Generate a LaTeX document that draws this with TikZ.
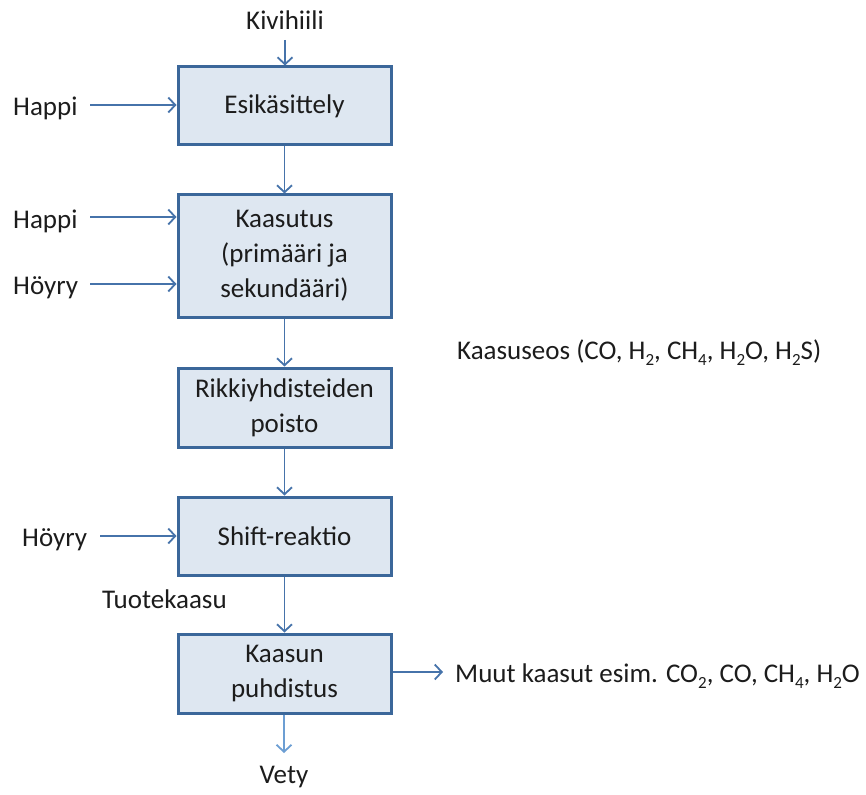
\documentclass[tikz,border=0pt]{standalone}
\usepackage{fontspec}
\setmainfont{Carlito}
\usetikzlibrary{arrows.meta}
\definecolor{boxline}{HTML}{3B679A}
\definecolor{boxfill}{HTML}{DEE7F1}
\definecolor{flowline}{HTML}{4673AA}
\definecolor{outline}{HTML}{6C9ED3}
\definecolor{ink}{HTML}{1C1C1C}
% lowered chemical subscript
\newcommand\chsub[1]{\raisebox{-0.5ex}{\fontsize{17}{17}\selectfont #1}}
\begin{document}
\begin{tikzpicture}[x=1pt,y=-1pt,
  font=\fontsize{27}{35}\selectfont, text=ink,
  stage/.style={draw=boxline, line width=3pt, fill=boxfill,
    minimum width=213pt, align=center, inner sep=0pt},
  label/.style={inner sep=0pt},
  flow/.style={draw=flowline, line width=1.7pt,
    -{Straight Barb[length=7pt,width=15pt,line width=1.8pt]}},
  lightflow/.style={flow, draw=outline}]
\useasboundingbox (0,0) rectangle (866,794);

% process stages
\node[stage, minimum height=78pt]  (b1) at (284.5,106)   {Esikäsittely};
\node[stage, minimum height=122pt] (b2) at (284.5,256)   {Kaasutus\\(primääri ja\\sekundääri)};
\node[stage, minimum height=79pt]  (b3) at (284.5,407.5) {Rikkiyhdisteiden\\poisto};
\node[stage, minimum height=78pt]  (b4) at (284.5,536)   {Shift-reaktio};
\node[stage, minimum height=79pt]  (b5) at (284.5,673.5) {Kaasun\\puhdistus};

% inputs and outputs
\node[label, anchor=base] (kivi) at (285,30) {Kivihiili};
\node[label, anchor=base west] (happi1) at (13,116) {Happi};
\node[label, anchor=base west] (happi2) at (13,228) {Happi};
\node[label, anchor=base west] (hoyry1) at (13,294) {Höyry};
\node[label, anchor=base west] (hoyry2) at (22,546) {Höyry};
\node[label, anchor=base west] (seos) at (457,359)
  {Kaasuseos (CO, H\chsub{2}, CH\chsub{4}, H\chsub{2}O, H\chsub{2}S)};
\node[label, anchor=base west] (tuote) at (102,608) {Tuotekaasu};
\node[label, anchor=base west] (muut) at (455,682)
  {Muut kaasut esim. CO\chsub{2}, CO, CH\chsub{4}, H\chsub{2}O};
\node[label, anchor=base] (vety) at (284,783) {Vety};

% free ends of the connectors
\coordinate (kivi-s) at (285,40);
\coordinate (happi1-s) at (90,105);
\coordinate (happi2-s) at (90,217);
\coordinate (hoyry1-s) at (90,284);
\coordinate (hoyry2-s) at (100,536);
\coordinate (muut-e) at (443,672);
\coordinate (vety-e) at (284,753);

% connectors
\draw[flow] (kivi-s) -- (kivi-s |- b1.north);
\draw[flow] (happi1-s) -- (b1.west |- happi1-s);
\draw[flow] (happi2-s) -- (b2.west |- happi2-s);
\draw[flow] (hoyry1-s) -- (b2.west |- hoyry1-s);
\draw[flow] (hoyry2-s) -- (b4.west |- hoyry2-s);
\draw[flow] (b1.south) -- (b2.north);
\draw[flow] (b2.south) -- (b3.north);
\draw[flow] (b3.south) -- (b4.north);
\draw[flow] (b4.south) -- (b5.north);
\draw[flow] (b5.east |- muut-e) -- (muut-e);
\draw[lightflow] (vety-e |- b5.south) -- (vety-e);
\end{tikzpicture}
\end{document}
